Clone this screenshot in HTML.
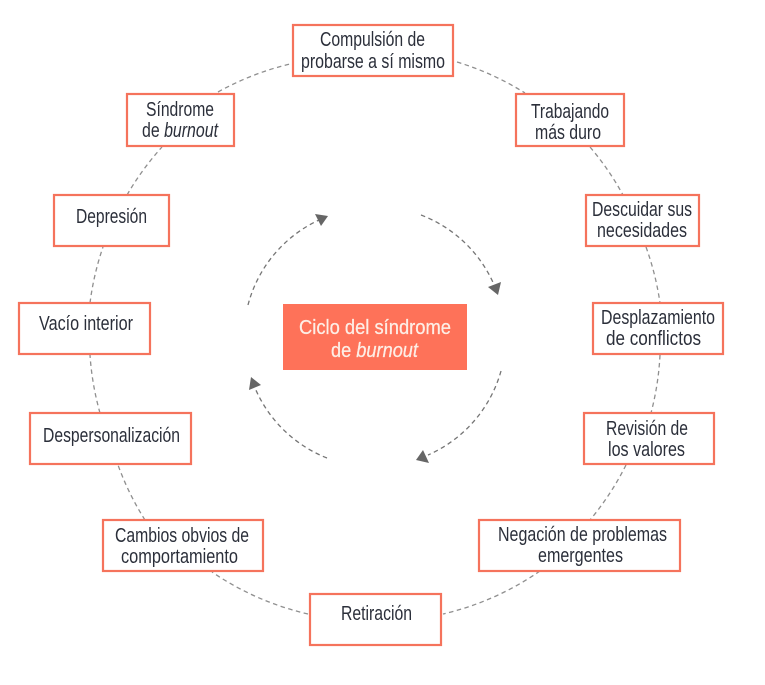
<!DOCTYPE html>
<html>
<head>
<meta charset="utf-8">
<style>
html,body{margin:0;padding:0;background:#fff;width:765px;height:685px;overflow:hidden}
svg{display:block}
text{font-family:"Liberation Sans Narrow","Liberation Sans",sans-serif;font-size:20px;fill:#2b2f3a}
.b{fill:#fff;stroke:#f5735c;stroke-width:2.2}
.a{fill:none;stroke:#8f8f8f;stroke-width:1.3;stroke-dasharray:4.5 3.5}
.i{fill:none;stroke:#757575;stroke-width:1.3;stroke-dasharray:4.5 3.5}
.t{fill:#666}
.w{fill:#fdeee6;stroke:#fdeee6;stroke-width:.25}
</style>
</head>
<body>
<svg width="765" height="685" viewBox="0 0 765 685" xmlns="http://www.w3.org/2000/svg">
<g class="a">
<path d="M218 92A284 284 0 0 1 290 64"/>
<path d="M457 62A284 284 0 0 1 525 93"/>
<path d="M590 147A284 284 0 0 1 623 195"/>
<path d="M646 247A284 284 0 0 1 660 303"/>
<path d="M660 355A284 284 0 0 1 651 413"/>
<path d="M626 465A284 284 0 0 1 590 520"/>
<path d="M540 571A284 284 0 0 1 443 614"/>
<path d="M308 614A284 284 0 0 1 212 572"/>
<path d="M145 520A284 284 0 0 1 118 465"/>
<path d="M100 413A284 284 0 0 1 90 355"/>
<path d="M90 303A284 284 0 0 1 103 247"/>
<path d="M127 195A284 284 0 0 1 162 147"/>
</g>
<g class="i">
<path d="M421 215A130 130 0 0 1 495 287"/>
<path d="M501 371A130 130 0 0 1 428 455"/>
<path d="M327 458A130 130 0 0 1 255 388"/>
<path d="M248 305A130 130 0 0 1 319 220"/>
</g>
<polygon class="t" points="488,287 501,282 498,295"/>
<polygon class="t" points="429,463 416,460 423,450"/>
<polygon class="t" points="249,390 251,377 261,385"/>
<polygon class="t" points="315,214 328,216 321,226"/>
<rect x="283" y="304" width="184" height="66" fill="#fe7259"/>
<text class="w" x="299" y="334" textLength="152" lengthAdjust="spacingAndGlyphs">Ciclo del síndrome</text>
<text class="w" x="331" y="357" textLength="87" lengthAdjust="spacingAndGlyphs">de <tspan font-style="italic">burnout</tspan></text>

<rect class="b" x="293" y="25" width="160" height="51"/>
<rect class="b" x="516" y="94" width="108" height="52"/>
<rect class="b" x="127" y="94" width="107" height="52"/>
<rect class="b" x="54" y="195" width="115" height="51"/>
<rect class="b" x="586" y="195" width="113" height="51"/>
<rect class="b" x="19" y="303" width="131" height="51"/>
<rect class="b" x="593" y="303" width="130" height="51"/>
<rect class="b" x="30" y="413" width="161" height="51"/>
<rect class="b" x="584" y="413" width="130" height="51"/>
<rect class="b" x="103" y="520" width="160" height="51"/>
<rect class="b" x="479" y="520" width="201" height="51"/>
<rect class="b" x="310" y="594" width="131" height="51"/>

<text x="320" y="46" textLength="105" lengthAdjust="spacingAndGlyphs">Compulsión de</text>
<text x="301" y="68" textLength="144" lengthAdjust="spacingAndGlyphs">probarse a sí mismo</text>
<text x="531" y="118" textLength="78" lengthAdjust="spacingAndGlyphs">Trabajando</text>
<text x="535" y="139" textLength="66" lengthAdjust="spacingAndGlyphs">más duro</text>
<text x="146" y="116" textLength="68" lengthAdjust="spacingAndGlyphs">Síndrome</text>
<text x="142" y="137" textLength="76" lengthAdjust="spacingAndGlyphs">de <tspan font-style="italic">burnout</tspan></text>
<text x="76" y="223" textLength="71" lengthAdjust="spacingAndGlyphs">Depresión</text>
<text x="592" y="216" textLength="100" lengthAdjust="spacingAndGlyphs">Descuidar sus</text>
<text x="597" y="237" textLength="90" lengthAdjust="spacingAndGlyphs">necesidades</text>
<text x="39" y="330" textLength="94" lengthAdjust="spacingAndGlyphs">Vacío interior</text>
<text x="601" y="324" textLength="114" lengthAdjust="spacingAndGlyphs">Desplazamiento</text>
<text x="606" y="345" textLength="95" lengthAdjust="spacingAndGlyphs">de conflictos</text>
<text x="43" y="442" textLength="137" lengthAdjust="spacingAndGlyphs">Despersonalización</text>
<text x="606" y="435" textLength="82" lengthAdjust="spacingAndGlyphs">Revisión de</text>
<text x="608" y="456" textLength="77" lengthAdjust="spacingAndGlyphs">los valores</text>
<text x="115" y="542" textLength="134" lengthAdjust="spacingAndGlyphs">Cambios obvios de</text>
<text x="121" y="563" textLength="117" lengthAdjust="spacingAndGlyphs">comportamiento</text>
<text x="498" y="541" textLength="169" lengthAdjust="spacingAndGlyphs">Negación de problemas</text>
<text x="538" y="562" textLength="85" lengthAdjust="spacingAndGlyphs">emergentes</text>
<text x="341" y="620" textLength="71" lengthAdjust="spacingAndGlyphs">Retiración</text>
</svg>
</body>
</html>
